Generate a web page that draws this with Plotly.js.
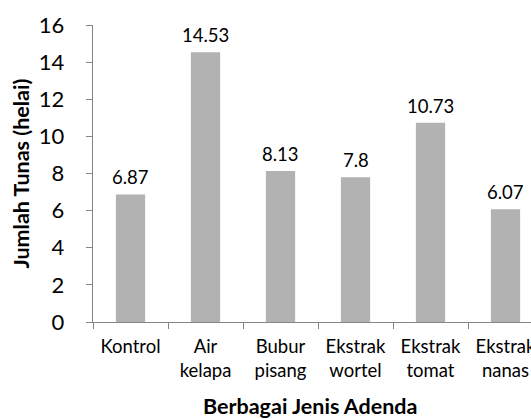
<!DOCTYPE html>
<html>
<head>
<meta charset="utf-8">
<script src="https://cdn.plot.ly/plotly-3.0.1.min.js"></script>
<style>
html, body { margin: 0; padding: 0; overflow: hidden; background: #fff; }
#chart { width: 548px; height: 419px; }
</style>
</head>
<body>
<div id="chart"></div>
<script>
const categories = ["Kontrol", "Air<br>kelapa", "Bubur<br>pisang", "Ekstrak<br>wortel", "Ekstrak<br>tomat", "Ekstrak<br>nanas"];
const values = [6.87, 14.53, 8.13, 7.8, 10.73, 6.07];
const yTicks = [0, 2, 4, 6, 8, 10, 12, 14, 16];
const xTitle = "Berbagai Jenis Adenda";
const yTitle = "Jumlah Tunas (helai)";

const FONT = "Lato, 'Open Sans', sans-serif";
const trace = {
  type: "bar",
  x: categories,
  y: values,
  marker: { color: "#B2B2B2", line: { width: 0 } },
  hoverinfo: "none"
};

// data labels placed at each bar top through the data scales
const valueLabels = categories.map((c, i) => ({
  text: String(values[i]),
  xref: "x", yref: "y",
  x: c, y: values[i],
  xanchor: "center", yanchor: "bottom",
  yshift: 4,
  showarrow: false,
  font: { family: FONT, size: 18.5, color: "#000" }
}));

const layout = {
  width: 548,
  height: 419,
  margin: { l: 93, r: 5, t: 25, b: 97 },
  paper_bgcolor: "#fff",
  plot_bgcolor: "#fff",
  bargap: 0.61,
  showlegend: false,
  font: { family: FONT, color: "#000" },
  xaxis: {
    type: "category",
    showline: true,
    linecolor: "#868686",
    linewidth: 1,
    ticks: "outside",
    tickson: "boundaries",
    ticklen: 6,
    tickcolor: "#868686",
    ticklabelstandoff: 8,
    tickfont: { family: FONT, size: 18.5, color: "#000" },
    showgrid: false,
    zeroline: false,
    automargin: false
  },
  yaxis: {
    range: [0, 16],
    tickvals: yTicks,
    ticktext: yTicks.map(v => String(v) + "\u00a0\u00a0"),
    showline: true,
    linecolor: "#868686",
    linewidth: 1,
    ticks: "outside",
    ticklen: 6,
    tickcolor: "#868686",
    ticklabelstandoff: 6,
    tickfont: { family: FONT, size: 22, color: "#000" },
    showgrid: false,
    zeroline: false,
    automargin: false
  },
  annotations: valueLabels.concat([
    {
      text: "<b>" + xTitle + "</b>",
      xref: "paper", yref: "paper",
      x: (310 - 93) / 450, y: 0,
      xanchor: "center", yanchor: "middle",
      yshift: -84,
      showarrow: false,
      font: { family: FONT, size: 21.5, color: "#000" }
    },
    {
      text: "<b>" + yTitle + "</b>",
      xref: "paper", yref: "paper",
      x: 0, y: 0.5,
      xanchor: "center", yanchor: "middle",
      xshift: -73,
      yshift: 0,
      textangle: -90,
      showarrow: false,
      font: { family: FONT, size: 21.5, color: "#000" }
    }
  ])
};

Plotly.newPlot("chart", [trace], layout, { displayModeBar: false, staticPlot: true });
</script>
</body>
</html>
